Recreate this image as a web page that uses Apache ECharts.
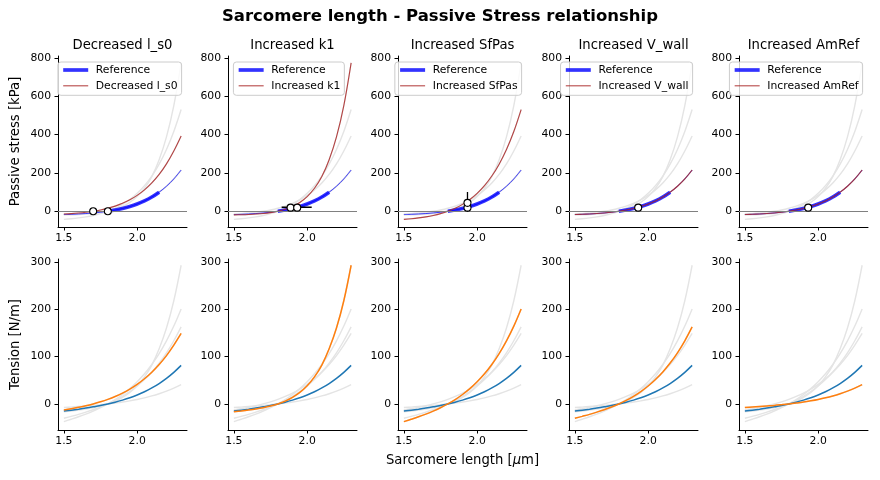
<!DOCTYPE html>
<html>
<head>
<meta charset="utf-8">
<script src="https://cdn.jsdelivr.net/npm/echarts@6/dist/echarts.min.js"></script>
<style>html,body{margin:0;padding:0;background:#fff}#c{width:880px;height:480px}</style>
</head>
<body>
<div id="c"></div>
<script>
// ---------------- data ----------------
const panelTitles = ['Decreased l_s0', 'Increased k1', 'Increased SfPas', 'Increased V_wall', 'Increased AmRef'];
const sarcomereLength = [1.50, 1.55, 1.60, 1.65, 1.70, 1.75, 1.80, 1.85, 1.90, 1.95, 2.00, 2.05, 2.10, 2.15, 2.20, 2.25, 2.30];

const stressReference      = [-17.0, -15.8, -14.1, -11.8, -8.8, -5.0, 0.0, 6.4, 14.6, 24.9, 37.9, 54.2, 74.5, 99.7, 130.7, 168.8, 215.2];
const stressDecreasedLs0   = [-14.5, -12.2, -9.2, -5.2, 0.0, 6.8, 15.7, 27.0, 41.4, 59.8, 82.8, 111.7, 147.7, 192.2, 247.2, 314.6, 393.0];
const stressIncreasedK1    = [-18.6, -17.8, -16.5, -14.5, -11.5, -6.9, 0.0, 10.1, 24.9, 46.2, 76.7, 120.0, 181.0, 268.9, 387.8, 551.3, 774.4];
const stressIncreasedSfPas = [-42.0, -38.8, -34.6, -29.1, -21.8, -12.3, 0.0, 15.8, 35.9, 61.4, 93.5, 133.7, 183.7, 245.8, 322.2, 416.0, 530.5];
const stressIncreasedVwall = [-17.0, -15.8, -14.1, -11.8, -8.8, -5.0, 0.0, 6.4, 14.6, 24.9, 37.9, 54.2, 74.5, 99.7, 130.7, 168.8, 215.2];
const stressIncreasedAmRef = [-17.0, -15.8, -14.1, -11.8, -8.8, -5.0, 0.0, 6.4, 14.6, 24.9, 37.9, 54.2, 74.5, 99.7, 130.7, 168.8, 215.2];

const tensionReference      = [-15.1, -13.1, -11.0, -8.7, -6.1, -3.3, 0.0, 3.7, 8.1, 13.1, 19.0, 25.8, 33.8, 43.1, 54.0, 66.7, 81.4];
const tensionDecreasedLs0   = [-12.9, -10.2, -7.2, -3.9, 0.0, 4.5, 9.7, 15.8, 23.0, 31.4, 41.4, 53.2, 67.0, 83.2, 102.1, 124.3, 149.0];
const tensionIncreasedK1    = [-16.5, -14.8, -12.9, -10.7, -8.0, -4.5, 0.0, 5.9, 13.8, 24.3, 38.4, 57.1, 82.1, 116.4, 160.2, 217.8, 292.8];
const tensionIncreasedSfPas = [-37.3, -32.3, -27.1, -21.4, -15.1, -8.0, 0.0, 9.2, 19.9, 32.3, 46.7, 63.6, 83.3, 106.3, 133.1, 164.4, 200.6];
const tensionIncreasedVwall = [-30.3, -26.2, -22.0, -17.3, -12.2, -6.5, 0.0, 7.5, 16.1, 26.2, 37.9, 51.6, 67.6, 86.3, 108.0, 133.4, 162.7];
const tensionIncreasedAmRef = [-7.6, -6.6, -5.5, -4.3, -3.1, -1.6, 0.0, 1.9, 4.0, 6.6, 9.5, 12.9, 16.9, 21.6, 27.0, 33.3, 40.7];

// reference operating range (indices into sarcomereLength): 1.80 .. 2.15
const referenceRangeStart = 6;
const referenceRangeEnd = 13;

// operating points (sarcomere length, stress) per panel
const operatingPoints = [
  [[1.70, 0], [1.80, 0]],
  [[1.887, 19], [1.932, 19]],
  [[1.934, 19], [1.934, 44]],
  [[1.932, 19]],
  [[1.932, 19]]
];
// error bar end points per panel
const errorBars = [
  [],
  [[1.826, 21], [2.031, 21]],
  [[1.934, 101], [1.934, -4]],
  [],
  []
];

const stressTicks = [0, 200, 400, 600, 800];
const tensionTicks = [0, 100, 200, 300];
const lengthTicks = [1.5, 2.0];

// ---------------- layout / style ----------------
const FONT = 'DejaVu Sans';
const stressVariants = [stressDecreasedLs0, stressIncreasedK1, stressIncreasedSfPas, stressIncreasedVwall, stressIncreasedAmRef];
const tensionVariants = [tensionDecreasedLs0, tensionIncreasedK1, tensionIncreasedSfPas, tensionIncreasedVwall, tensionIncreasedAmRef];
const lefts = [58, 228, 398, 569, 739];
const W = 129, H = 171;
const topRowTop = 56, botRowTop = 259;
const legendLeftAligned = [false, true, false, false, false];
const SMOOTH = 0.35;

const pairs = (xs, ys) => xs.map((x, i) => [x, ys[i]]);

const grids = [], xAxes = [], yAxes = [], series = [], titles = [], legends = [];

titles.push({
  text: 'Sarcomere length - Passive Stress relationship',
  left: 440, top: 8, textAlign: 'center', padding: 0,
  textStyle: {fontFamily: FONT, fontSize: 16.5, fontWeight: 'bold', color: '#000'}
});

function mkX(gi, name) {
  const ax = {
    type: 'value', gridIndex: gi, min: 1.46, max: 2.34,
    axisLine: {show: true, onZero: false, lineStyle: {color: '#000', width: 1}},
    axisTick: {show: true, customValues: lengthTicks, length: 3.5, lineStyle: {color: '#000', width: 1}},
    axisLabel: {customValues: lengthTicks, formatter: v => v.toFixed(1), fontFamily: FONT, fontSize: 10.8, color: '#000', margin: 6},
    splitLine: {show: false}
  };
  if (name) {
    ax.name = 'Sarcomere length [{i|μ}m]';
    ax.nameLocation = 'middle';
    ax.nameGap = 24;
    ax.nameTextStyle = {fontFamily: FONT, fontSize: 13.2, color: '#000',
      rich: {i: {fontFamily: FONT, fontSize: 13.2, fontStyle: 'italic', color: '#000'}}};
  }
  return ax;
}
function mkY(gi, min, max, ticks, name) {
  const ax = {
    type: 'value', gridIndex: gi, min: min, max: max,
    axisLine: {show: true, onZero: false, lineStyle: {color: '#000', width: 1}},
    axisTick: {show: true, customValues: ticks, length: 3.5, lineStyle: {color: '#000', width: 1}},
    axisLabel: {customValues: ticks, fontFamily: FONT, fontSize: 10.8, color: '#000', margin: 7},
    splitLine: {show: false}
  };
  if (name) {
    ax.name = name; ax.nameLocation = 'middle'; ax.nameGap = 36;
    ax.nameTextStyle = {fontFamily: FONT, fontSize: 13.2, color: '#000'};
  }
  return ax;
}

for (let p = 0; p < 5; p++) grids.push({left: lefts[p], top: topRowTop, width: W, height: H});
for (let p = 0; p < 5; p++) grids.push({left: lefts[p], top: botRowTop, width: W, height: H});

for (let p = 0; p < 5; p++) {
  xAxes.push(mkX(p, false));
  yAxes.push(mkY(p, -82, 810, stressTicks, p === 0 ? 'Passive stress [kPa]' : null));
  titles.push({
    text: panelTitles[p], left: lefts[p] + W / 2, top: 39.5, textAlign: 'center', padding: 0,
    textStyle: {fontFamily: FONT, fontSize: 13.2, fontWeight: 'normal', color: '#000'}
  });
}
for (let p = 0; p < 5; p++) {
  xAxes.push(mkX(p + 5, p === 2));
  yAxes.push(mkY(p + 5, -55, 306, tensionTicks, p === 0 ? 'Tension [N/m]' : null));
}

for (let p = 0; p < 5; p++) {
  const ai = p;
  stressVariants.forEach((arr, k) => {
    series.push({type: 'line', name: 'all_stress_' + k, xAxisIndex: ai, yAxisIndex: ai,
      data: pairs(sarcomereLength, arr), symbol: 'none', smooth: SMOOTH,
      lineStyle: {color: '#e4e4e4', width: 1.4}, z: 1, silent: true});
  });
  series.push({type: 'line', name: 'ref_line', xAxisIndex: ai, yAxisIndex: ai,
    data: pairs(sarcomereLength, stressReference), symbol: 'none', smooth: SMOOTH,
    lineStyle: {color: 'rgba(0,0,255,0.75)', width: 1}, z: 2, silent: true,
    markLine: {symbol: 'none', silent: true, label: {show: false}, animation: false,
      lineStyle: {color: '#808080', width: 1, type: 'solid'}, data: [{yAxis: 0}]}});
  series.push({type: 'line', name: 'Reference', xAxisIndex: ai, yAxisIndex: ai,
    data: pairs(sarcomereLength.slice(referenceRangeStart, referenceRangeEnd + 1),
                stressReference.slice(referenceRangeStart, referenceRangeEnd + 1)),
    symbol: 'none', smooth: SMOOTH,
    lineStyle: {color: 'rgba(0,0,255,0.8)', width: 3.7}, itemStyle: {color: 'rgba(0,0,255,0.8)'}, z: 3, silent: true});
  series.push({type: 'line', name: panelTitles[p], xAxisIndex: ai, yAxisIndex: ai,
    data: pairs(sarcomereLength, stressVariants[p]), symbol: 'none', smooth: SMOOTH,
    lineStyle: {color: 'rgba(170,40,40,0.85)', width: 1.1}, itemStyle: {color: 'rgba(170,40,40,0.85)'}, z: 4, silent: true});
  if (errorBars[p].length) {
    series.push({type: 'line', name: 'err_' + p, xAxisIndex: ai, yAxisIndex: ai,
      data: errorBars[p], symbol: 'none', lineStyle: {color: '#000', width: 1.3}, z: 5, silent: true});
  }
  series.push({type: 'scatter', name: 'pts_' + p, xAxisIndex: ai, yAxisIndex: ai,
    data: operatingPoints[p], symbol: 'circle', symbolSize: 7,
    itemStyle: {color: '#fff', borderColor: '#000', borderWidth: 1.1, opacity: 1}, z: 6, silent: true});

  const lg = {
    data: [
      {name: 'Reference', lineStyle: {width: 3.7, color: 'rgba(0,0,255,0.8)'}},
      {name: panelTitles[p], lineStyle: {width: 1.1, color: 'rgba(170,40,40,0.85)'}}
    ],
    orient: 'vertical', top: 62,
    itemWidth: 25, itemHeight: 11, itemGap: 4.8, padding: [2.5, 4, 4, 3.4],
    backgroundColor: 'rgba(255,255,255,0.8)', borderColor: '#cccccc', borderWidth: 1, borderRadius: 3,
    selectedMode: false, itemStyle: {color: 'rgba(0,0,0,0)', borderWidth: 0, borderColor: 'rgba(0,0,0,0)'},
    textStyle: {fontFamily: FONT, fontSize: 10.8, color: '#000', padding: [0, 0, 0, 2.6]}
  };
  if (legendLeftAligned[p]) lg.left = lefts[p] + 5.4;
  else lg.right = 880 - (lefts[p] + W) + 5.4;
  legends.push(lg);
}

for (let p = 0; p < 5; p++) {
  const ai = p + 5;
  tensionVariants.forEach((arr, k) => {
    series.push({type: 'line', name: 'all_tension_' + k, xAxisIndex: ai, yAxisIndex: ai,
      data: pairs(sarcomereLength, arr), symbol: 'none', smooth: SMOOTH,
      lineStyle: {color: '#e4e4e4', width: 1.4}, z: 1, silent: true});
  });
  series.push({type: 'line', name: 'tension_ref', xAxisIndex: ai, yAxisIndex: ai,
    data: pairs(sarcomereLength, tensionReference), symbol: 'none', smooth: SMOOTH,
    lineStyle: {color: '#1f77b4', width: 1.5}, z: 2, silent: true});
  series.push({type: 'line', name: 'tension_var_' + p, xAxisIndex: ai, yAxisIndex: ai,
    data: pairs(sarcomereLength, tensionVariants[p]), symbol: 'none', smooth: SMOOTH,
    lineStyle: {color: '#ff7f0e', width: 1.5}, z: 3, silent: true});
}

const chart = echarts.init(document.getElementById('c'), null, {renderer: 'canvas'});
chart.setOption({
  animation: false,
  backgroundColor: '#fff',
  textStyle: {fontFamily: FONT},
  title: titles,
  legend: legends,
  grid: grids,
  xAxis: xAxes,
  yAxis: yAxes,
  series: series
});
</script>
</body>
</html>
